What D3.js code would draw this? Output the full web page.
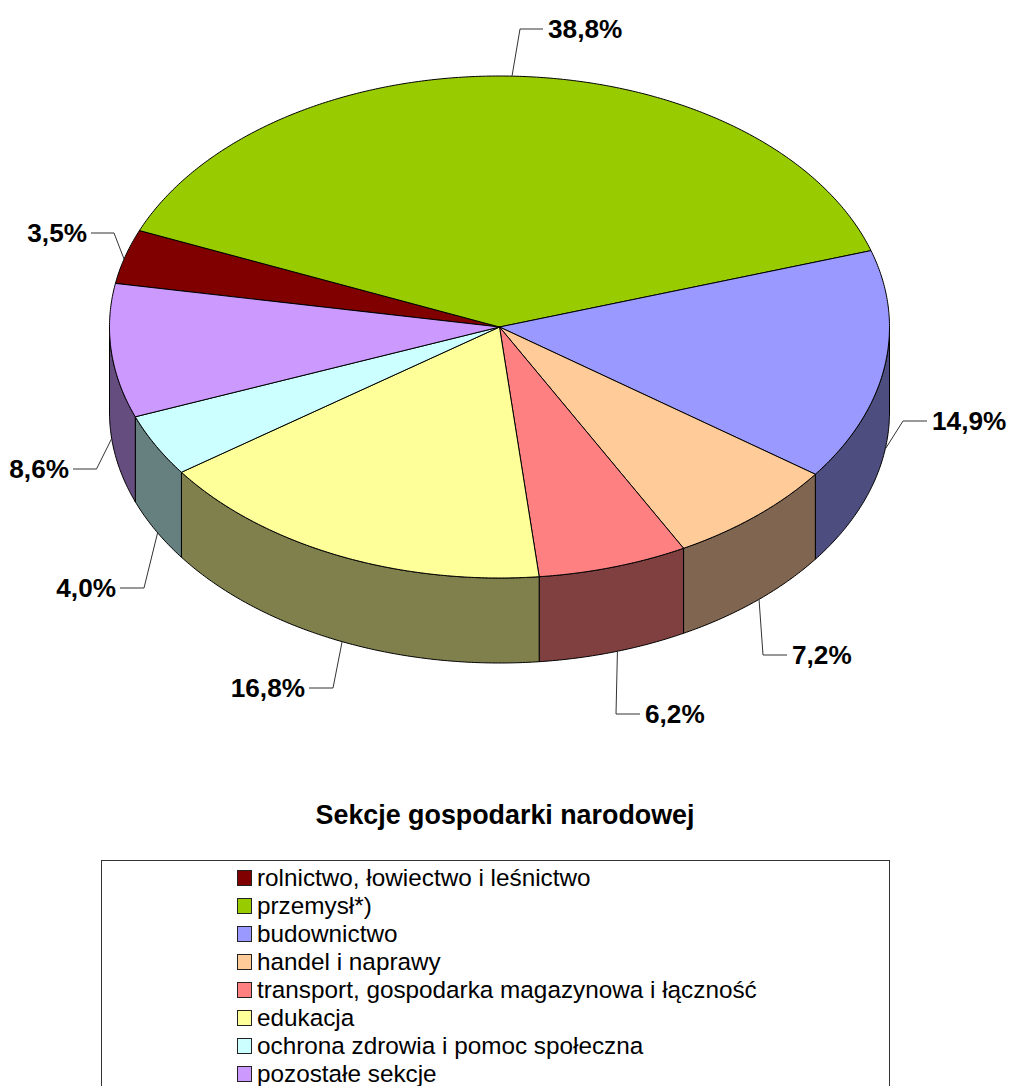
<!DOCTYPE html>
<html>
<head>
<meta charset="utf-8">
<script src="https://cdn.jsdelivr.net/npm/d3@7"></script>
<style>
html, body { margin: 0; padding: 0; background: #fff; overflow: hidden; }
svg { display: block; }
text { font-family: "Liberation Sans", Arial, sans-serif; fill: #000; }
</style>
</head>
<body>
<script>
// Data
const categories = ["rolnictwo, łowiectwo i leśnictwo", "przemysł*)", "budownictwo", "handel i naprawy",
    "transport, gospodarka magazynowa i łączność", "edukacja", "ochrona zdrowia i pomoc społeczna", "pozostałe sekcje"];
const shares = [3.5, 38.8, 14.9, 7.2, 6.2, 16.8, 4.0, 8.6];
const valueLabels = ["3,5%", "38,8%", "14,9%", "7,2%", "6,2%", "16,8%", "4,0%", "8,6%"];
const colors = ["#800000", "#99cc00", "#9999ff", "#ffcc99", "#ff8080", "#ffff99", "#ccffff", "#cc99ff"];
const sideColors = ["#400000", "#4d6600", "#4d4d80", "#806650", "#804040", "#80804d", "#668080", "#664d80"];
const chartTitle = "Sekcje gospodarki narodowej";

// Layout, apart from the data
const width = 1010, height = 1086;
const cx = 499.5, cy = 327, rx = 390, ry = 251, depth = 85;
const rad = Math.PI / 180;
const firstAngle = -80;
// where the leader bends and where it stops, same order as the slices
const leaders = [
    { elbow: [114, 233], end: [91, 233], anchor: "end" },
    { elbow: [520, 29], end: [543, 29], anchor: "start" },
    { elbow: [903, 421], end: [927, 421], anchor: "start" },
    { elbow: [763, 655], end: [787, 655], anchor: "start" },
    { elbow: [616, 714], end: [640, 714], anchor: "start" },
    { elbow: [333, 688], end: [309, 688], anchor: "end" },
    { elbow: [144, 588], end: [120, 588], anchor: "end" },
    { elbow: [96.5, 469], end: [73, 469], anchor: "end" }
];

const svg = d3.select("body").append("svg")
    .attr("width", width)
    .attr("height", height);

const pie = d3.pie()
    .sort(null)
    .startAngle(firstAngle * rad)
    .endAngle((firstAngle + 360) * rad);
const arcs = pie(shares);

// angle on the ellipse, 0 is up and clockwise like d3.pie
const project = (a, dy = 0) => [cx + rx * Math.sin(a), cy - ry * Math.cos(a) + dy];
const line = d3.line();

function samples(a0, a1) {
    const n = Math.max(2, Math.ceil((a1 - a0) / (0.5 * rad)));
    return d3.range(n + 1).map(i => a0 + (a1 - a0) * i / n);
}

// side wall, only the front half of the ellipse shows
const sides = svg.append("g");
arcs.forEach((d, i) => {
    const a0 = Math.max(d.startAngle, 90 * rad);
    const a1 = Math.min(d.endAngle, 270 * rad);
    if (a1 <= a0) return;
    const top = samples(a0, a1).map(a => project(a));
    const bottom = samples(a0, a1).reverse().map(a => project(a, depth));
    sides.append("path")
        .attr("d", line(top.concat(bottom)) + "Z")
        .attr("fill", sideColors[i])
        .attr("stroke", "#000")
        .attr("stroke-width", 1)
        .attr("stroke-linejoin", "round");
});

// top face
svg.append("g").selectAll("path")
    .data(arcs)
    .join("path")
    .attr("d", d => line([[cx, cy]].concat(samples(d.startAngle, d.endAngle).map(a => project(a)))) + "Z")
    .attr("fill", (d, i) => colors[i])
    .attr("stroke", "#000")
    .attr("stroke-width", 1)
    .attr("stroke-linejoin", "round");

// leaders and value labels
arcs.forEach((d, i) => {
    const mid = (d.startAngle + d.endAngle) / 2 - 0.6 * rad; // leaders sit a touch behind the slice middle
    const front = Math.cos(mid) < 0;
    const start = project(mid, front ? depth : 0);
    const l = leaders[i];
    svg.append("path")
        .attr("d", line([start, l.elbow, l.end]))
        .attr("fill", "none")
        .attr("stroke", "#333")
        .attr("stroke-width", 1);
    svg.append("text")
        .attr("x", l.end[0] + (l.anchor == "end" ? -4 : 5))
        .attr("y", l.end[1] + 9)
        .attr("text-anchor", l.anchor)
        .attr("font-size", 26.2)
        .attr("font-weight", "bold")
        .text(valueLabels[i]);
});

// title
svg.append("text")
    .attr("x", 505)
    .attr("y", 823.5)
    .attr("text-anchor", "middle")
    .attr("font-size", 26.85)
    .attr("font-weight", "bold")
    .text(chartTitle);

// legend, the bottom edge runs off the page
svg.append("rect")
    .attr("x", 101.5)
    .attr("y", 860.5)
    .attr("width", 788)
    .attr("height", 240)
    .attr("fill", "none")
    .attr("stroke", "#333")
    .attr("stroke-width", 1);

const rowY = d3.scalePoint()
    .domain(categories)
    .range([878, 1074]);

const row = svg.append("g").selectAll("g")
    .data(categories)
    .join("g")
    .attr("transform", d => `translate(237,${rowY(d)})`);
row.append("rect")
    .attr("x", 0.5)
    .attr("y", -7.5)
    .attr("width", 14)
    .attr("height", 15)
    .attr("fill", (d, i) => colors[i])
    .attr("stroke", "#222")
    .attr("stroke-width", 1);
row.append("text")
    .attr("x", 20)
    .attr("y", 7.5)
    .attr("font-size", 24.3)
    .text(d => d);
</script>
</body>
</html>
